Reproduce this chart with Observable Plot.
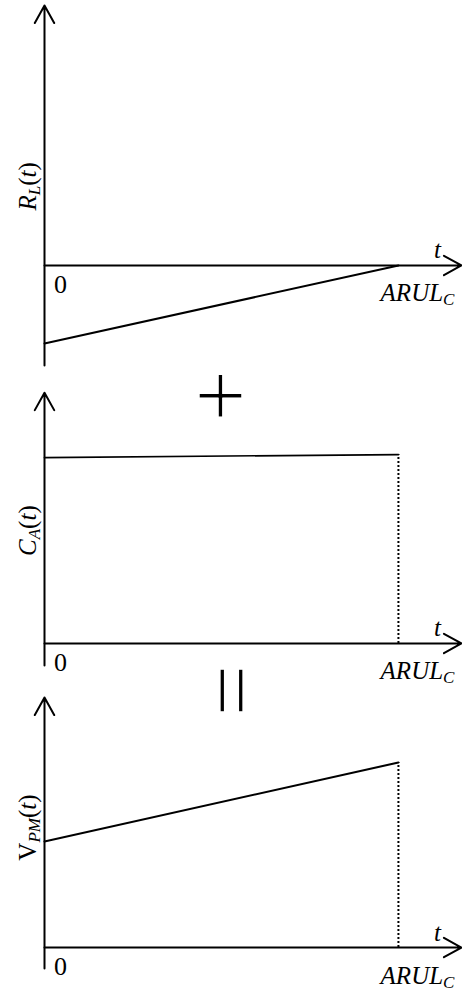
<!DOCTYPE html>
<html><head><meta charset="utf-8">
<script src="https://cdn.jsdelivr.net/npm/d3@7"></script>
<script src="https://cdn.jsdelivr.net/npm/@observablehq/plot@0.6"></script>
<style>
html,body{margin:0;padding:0;background:#fff;overflow:hidden;}
#chart{position:relative;width:462px;height:990px;}
#chart svg{position:absolute;left:0;overflow:visible;}
</style></head><body><div id="chart"></div>
<script>
// ---- data (arbitrary units) ----
const tVals = [0, 1];                 // 0 and ARUL_C
const rL = [-0.42, 0];                // R_L(t)
const cA = [1.0, 1.016];              // C_A(t)
const vPM = [0.57, 0.995];            // V_PM(t)
const series = [rL, cA, vPM];
const yLabels = ["R_L(t)", "C_A(t)", "V_PM(t)"];
const yLabelPos = [0.425, 0.607, 0.645];
const yAxisLow = [-0.538, -0.118, -0.113];
const yAxisHigh = [1.398, 1.349, 1.344];
const tAxisHigh = 1.178;
const originLabel = "0";
const tLabel = "t";
const endLabel = "ARUL_C";
const operators = ["+", "="];

// ---- layout ----
const font = "Liberation Serif";
const panels = [
  {top: 0,   height: 370, yDomain: [-0.565, 1.425]},
  {top: 365, height: 320, yDomain: [-0.226, 1.495]},
  {top: 650, height: 340, yDomain: [-0.231, 1.597]}
];
const richParts = {
  "R_L(t)":  [["R","i"],["L","si"],["(",""],["t","i"],[")",""]],
  "C_A(t)":  [["C","i"],["A","si"],["(",""],["t","i"],[")",""]],
  "V_PM(t)": [["V",""],["PM","si"],["(",""],["t","i"],[")",""]],
  "ARUL_C":  [["ARUL","i"],["C","si"]]
};
function rich(el, parts) {
  el.textContent = "";
  let shifted = false;
  for (const [s, f] of parts) {
    const ts = document.createElementNS("http://www.w3.org/2000/svg", "tspan");
    ts.textContent = s;
    if (f.includes("i")) ts.setAttribute("font-style", "italic");
    if (f.includes("s")) {
      ts.setAttribute("font-size", "17");
      if (!shifted) { ts.setAttribute("dy", "4"); shifted = true; }
    } else if (shifted) { ts.setAttribute("dy", "-4"); shifted = false; }
    el.appendChild(ts);
  }
}

const chart = document.getElementById("chart");
const axisArrow = {stroke: "black", strokeWidth: 2, headLength: 15, headAngle: 58};
const opStyle = {fontSize: 92, fill: "black", stroke: "white", strokeWidth: 1.2, paintOrder: "normal", lineAnchor: "bottom"};

panels.forEach((p, i) => {
  const lineData = tVals.map((t, j) => ({t, v: series[i][j]}));
  const marks = [
    Plot.arrow([{x1: 0, y1: yAxisLow[i], x2: 0, y2: yAxisHigh[i]}],
      {x1: "x1", y1: "y1", x2: "x2", y2: "y2", ...axisArrow}),
    Plot.arrow([{x1: 0, y1: 0, x2: tAxisHigh, y2: 0}],
      {x1: "x1", y1: "y1", x2: "x2", y2: "y2", ...axisArrow}),
    Plot.line(lineData, {x: "t", y: "v", stroke: "black", strokeWidth: i === 1 ? 1.7 : 2}),
    Plot.text([originLabel], {x: 0, y: 0, dx: 16, dy: 19, fontSize: 26, fill: "black"}),
    Plot.text([tLabel], {x: tAxisHigh, y: 0, dx: -24, dy: -7, lineAnchor: "bottom", fontSize: 25, fontStyle: "italic", fill: "black"}),
    Plot.text([endLabel], {x: tAxisHigh, y: 0, dx: -7, dy: 36, lineAnchor: "bottom", textAnchor: "end", fontSize: 25, fill: "black"}),
    Plot.text([yLabels[i]], {x: 0, y: yLabelPos[i], dx: -9, rotate: -90, lineAnchor: "bottom", textAnchor: "middle", fontSize: 25, fill: "black"})
  ];
  if (i > 0) {
    marks.push(Plot.ruleX([lineData[1]], {x: "t", y1: 0, y2: "v", stroke: "black", strokeWidth: 2, strokeDasharray: "2,2"}));
  }
  if (i === 1) {
    marks.push(Plot.text([operators[0]], {x: tVals[1] / 2, frameAnchor: "top", dy: 60, dx: -1, ...opStyle}));
  }
  if (i === 2) {
    marks.push(Plot.text([operators[1]], {x: tVals[1] / 2, frameAnchor: "top", dy: 40, dx: -20, rotate: 90, ...opStyle}));
  }
  const svg = Plot.plot({
    width: 462, height: p.height,
    marginLeft: 44, marginRight: 0, marginTop: 0, marginBottom: 0,
    x: {domain: [0, 1.181], axis: null},
    y: {domain: p.yDomain, axis: null},
    style: {background: "transparent", fontFamily: font, overflow: "visible"},
    marks
  });
  svg.style.top = p.top + "px";
  d3.select(svg).selectAll("text").each(function () {
    const s = this.textContent;
    if (richParts[s]) rich(this, richParts[s]);
  });
  chart.appendChild(svg);
});
</script></body></html>
